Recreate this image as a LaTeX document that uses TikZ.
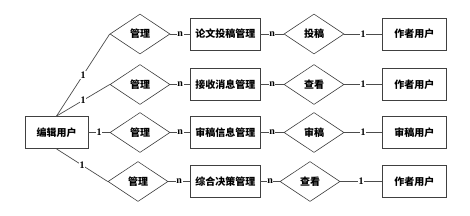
\documentclass[tikz,border=0pt]{standalone}
\usepackage{fontspec}
\newfontfamily\cjk{Noto Sans CJK SC}
\setmainfont{Liberation Serif}
\usetikzlibrary{shapes.geometric}
\tikzset{
  ent/.style={draw=black!75, line width=0.8pt, rectangle, minimum height=32pt, inner sep=0pt, font=\cjk\bfseries\fontsize{10}{12}\selectfont},
  rel/.style={draw=black!75, line width=0.6pt, diamond, aspect=1.5, minimum width=60pt, minimum height=40pt, inner sep=0pt, font=\cjk\bfseries\fontsize{10}{12}\selectfont},
  conn/.style={draw=black!70, line width=0.7pt},
  card/.style={fill=white, inner sep=0.6pt, font=\bfseries\fontsize{10}{12}\selectfont}
}
\begin{document}
\begin{tikzpicture}[x=1pt,y=-1pt]
\useasboundingbox (0,0) rectangle (470,215);
\node[ent, minimum width=63pt] (ed) at (56.5,132.5) {编辑用户};
% column 1 diamonds
\node[rel] (m1) at (140,34) {管理};
\node[rel] (m2) at (140,84.5) {管理};
\node[rel] (m3) at (140,132.5) {管理};
\node[rel] (m4) at (138,181.5) {管理};
% middle boxes
\node[ent, minimum width=69.5pt] (b1) at (225.3,34) {论文投稿管理};
\node[ent, minimum width=69.5pt] (b2) at (225.3,84.5) {接收消息管理};
\node[ent, minimum width=69.5pt] (b3) at (225.3,132.5) {审稿信息管理};
\node[ent, minimum width=69.5pt] (b4) at (225.3,181.5) {综合决策管理};
% column 2 diamonds
\node[rel] (r1) at (314,34) {投稿};
\node[rel] (r2) at (314,84.5) {查看};
\node[rel] (r3) at (314,132.5) {审稿};
\node[rel] (r4) at (310,181.5) {查看};
% right boxes
\node[ent, minimum width=63.5pt] (u1) at (414.3,34) {作者用户};
\node[ent, minimum width=63.5pt] (u2) at (414.3,84.5) {作者用户};
\node[ent, minimum width=63.5pt] (u3) at (414.3,132.5) {审稿用户};
\node[ent, minimum width=63.5pt] (u4) at (414.3,181.5) {作者用户};
% editor connections
\draw[conn] (ed.north) -- node[card]{1} (m1.west);
\draw[conn] (ed.north) -- node[card]{1} (m2.west);
\draw[conn] (ed.east) -- node[card]{1} (m3.west);
\draw[conn] (ed.south) -- node[card]{1} (m4.west);
% rows
\foreach \i in {1,2,3,4}{
  \draw[conn] (m\i.east) -- node[card]{n} (b\i.west);
  \draw[conn] (b\i.east) -- node[card]{n} (r\i.west);
  \draw[conn] (r\i.east) -- node[card]{1} (u\i.west);
}
\end{tikzpicture}
\end{document}
